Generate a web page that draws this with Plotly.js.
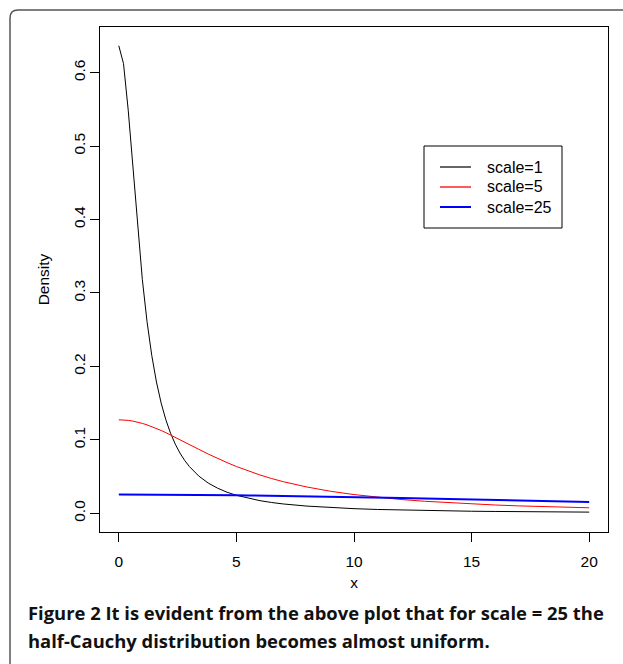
<!DOCTYPE html>
<html>
<head>
<meta charset="utf-8">
<script src="https://cdn.plot.ly/plotly-3.0.1.min.js"></script>
<style>
html,body{margin:0;padding:0;background:#fff;}
#chart{width:623px;height:664px;}
</style>
</head>
<body>
<div id="chart"></div>
<script>
// x values (shared by the three curves)
const xVals = [0,0.2,0.4,0.6,0.8,1,1.2,1.4,1.6,1.8,2,2.2,2.4,2.6,2.8,3,3.4,3.8,4.2,4.6,5,5.5,6,6.5,7,8,9,10,11,12,13,14,15,16,17,18,19,20];
// density, scale = 1
const scale1 = [0.6366,0.6121,0.5488,0.4681,0.3882,0.3183,0.2609,0.2151,0.1788,0.1501,0.1273,0.1090,0.0942,0.0820,0.0720,0.0637,0.0507,0.0412,0.0342,0.0287,0.0245,0.0204,0.0172,0.0147,0.0127,0.0098,0.0078,0.0063,0.0052,0.0044,0.0037,0.0032,0.0028,0.0025,0.0022,0.0020,0.0018,0.0016];
// scale = 5
const scale5 = [0.1273,0.1271,0.1265,0.1255,0.1242,0.1224,0.1204,0.1181,0.1155,0.1127,0.1098,0.1067,0.1035,0.1002,0.0969,0.0936,0.0871,0.0807,0.0746,0.0690,0.0637,0.0576,0.0522,0.0473,0.0430,0.0358,0.0300,0.0255,0.0218,0.0188,0.0164,0.0144,0.0127,0.0113,0.0101,0.0091,0.0082,0.0075];
// scale = 25
const scale25 = [0.02546,0.02546,0.02546,0.02545,0.02544,0.02542,0.02541,0.02539,0.02536,0.02533,0.02530,0.02527,0.02523,0.02519,0.02515,0.02510,0.02500,0.02489,0.02477,0.02463,0.02449,0.02429,0.02408,0.02385,0.02361,0.02310,0.02254,0.02195,0.02133,0.02070,0.02004,0.01939,0.01872,0.01807,0.01741,0.01677,0.01614,0.01553];
const seriesNames = ["scale=1","scale=5","scale=25"];
const seriesColors = ["#000000","#ff0000","#0000ff"];
const xTicks = [0,5,10,15,20];
const yTicks = [0,0.1,0.2,0.3,0.4,0.5,0.6];
const yTickText = ["0.0","0.1","0.2","0.3","0.4","0.5","0.6"];
const captionLines = ["<b>Figure 2 It is evident from the above plot that for scale = 25 the</b>",
                      "<b>half-Cauchy distribution becomes almost uniform.</b>"];

const W = 623, H = 664;
const L = 100, R = 15, T = 27, B = 132;
const pw = W - L - R, ph = H - T - B;
const px = v => (v - L) / pw;           // pixel -> paper x
const py = v => (H - B - v) / ph;       // pixel -> paper y

const curveWidths = [1, 1, 2];
const keyWidths = [1.2, 1.3, 2];
const seriesY = [scale1, scale5, scale25];

const traces = seriesY.map((ys, i) => ({
  x: xVals, y: ys, name: seriesNames[i], mode: 'lines',
  line: {color: seriesColors[i], width: curveWidths[i]}, showlegend: false
}));

const fam = 'Liberation Sans, Arial, sans-serif';
const font = {family: fam, size: 15, color: '#000'};

const borderPath = `M ${px(10)},${py(680)} L ${px(10)},${py(18)} Q ${px(10)},${py(10)} ${px(18)},${py(10)} L ${px(640)},${py(10)}`;

// legend (drawn as a framed key inside the plot)
const legRows = [167, 187, 207];
const shapes = [
  {type: 'path', xref: 'paper', yref: 'paper', path: borderPath,
   line: {color: '#555', width: 1.5}, layer: 'above'},
  {type: 'rect', xref: 'paper', yref: 'paper', x0: px(424), x1: px(562), y0: py(146), y1: py(228),
   line: {color: '#000', width: 1}, fillcolor: 'rgba(0,0,0,0)', layer: 'above'}
];
const annotations = [];
seriesNames.forEach((nm, i) => {
  shapes.push({type: 'line', xref: 'paper', yref: 'paper', x0: px(440), x1: px(471),
    y0: py(legRows[i]), y1: py(legRows[i]),
    line: {color: seriesColors[i], width: keyWidths[i]}, layer: 'above'});
  annotations.push({text: nm, xref: 'paper', yref: 'paper', x: px(485), y: py(legRows[i]),
    xanchor: 'left', yanchor: 'middle', showarrow: false,
    font: {family: fam, size: 16, color: '#000'}});
});
captionLines.forEach((t, i) => {
  annotations.push({text: t, xref: 'paper', yref: 'paper', x: px(26), y: py(612 + 28 * i),
    xanchor: 'left', yanchor: 'middle', showarrow: false,
    font: {family: 'Open Sans, sans-serif', size: 18.4, color: '#111'}});
});

const layout = {
  width: W, height: H,
  margin: {l: L, r: R, t: T, b: B, pad: 0},
  paper_bgcolor: '#fff', plot_bgcolor: '#fff',
  font: font,
  showlegend: false,
  xaxis: {
    range: [-0.8, 20.8], tickvals: xTicks, ticktext: xTicks.map(String),
    ticks: 'outside', ticklen: 9, tickcolor: '#000', tickwidth: 1,
    showline: true, mirror: true, linecolor: '#000', linewidth: 1,
    showgrid: false, zeroline: false, ticklabelstandoff: 6,
    tickfont: {family: fam, size: 15.5},
    title: {text: 'x', font: {family: fam, size: 15.5}, standoff: 8}
  },
  yaxis: {
    range: [-0.02546, 0.66208], tickvals: yTicks, ticktext: yTickText,
    ticks: 'outside', ticklen: 9, tickcolor: '#000', tickwidth: 1,
    showline: true, mirror: true, linecolor: '#000', linewidth: 1,
    showgrid: false, zeroline: false, tickangle: -90, ticklabelstandoff: -1,
    tickfont: {family: fam, size: 15.5},
    title: {text: 'Density', font: {family: fam, size: 15.5}, standoff: 17}
  },
  shapes: shapes,
  annotations: annotations
};

Plotly.newPlot('chart', traces, layout, {displayModeBar: false, staticPlot: true});
</script>
</body>
</html>
